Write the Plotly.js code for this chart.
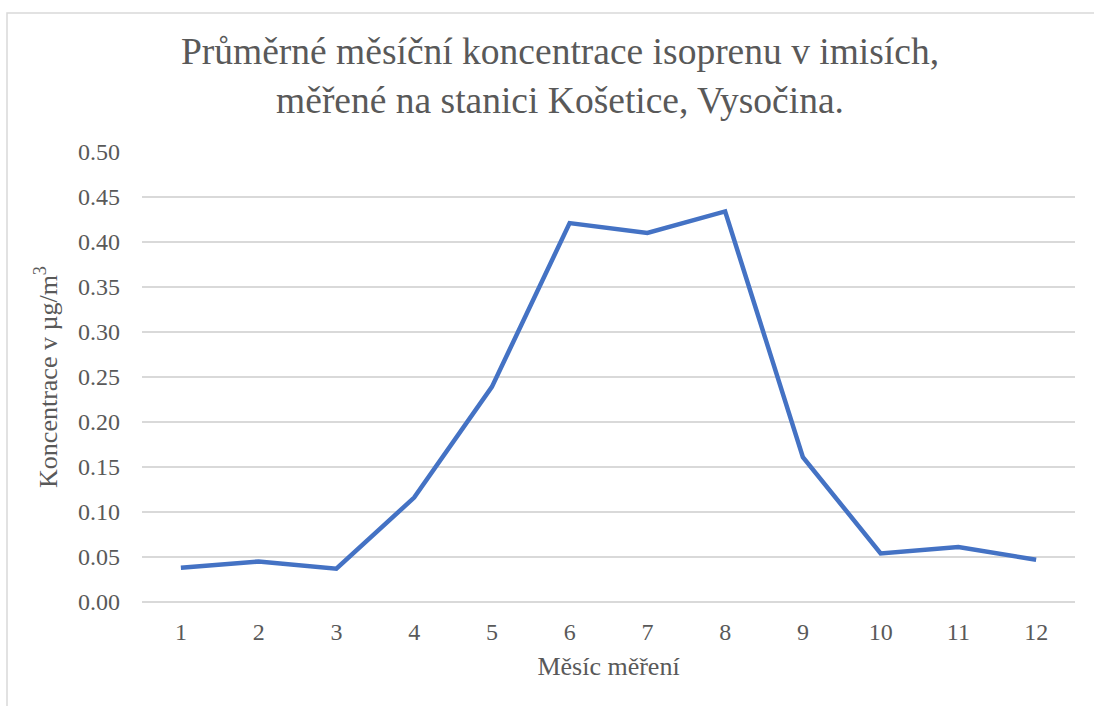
<!DOCTYPE html>
<html>
<head>
<meta charset="utf-8">
<script src="https://cdn.plot.ly/plotly-3.0.1.min.js"></script>
<style>
html,body{margin:0;padding:0;background:#fff;}
#chart{width:1094px;height:706px;}
</style>
</head>
<body>
<div id="chart"></div>
<script>
const months = [1, 2, 3, 4, 5, 6, 7, 8, 9, 10, 11, 12];
const monthLabels = ["1", "2", "3", "4", "5", "6", "7", "8", "9", "10", "11", "12"];
const isoprene = [0.038, 0.045, 0.037, 0.116, 0.239, 0.421, 0.410, 0.434, 0.161, 0.054, 0.061, 0.047];
const yTicks = [0, 0.05, 0.10, 0.15, 0.20, 0.25, 0.30, 0.35, 0.40, 0.45, 0.50];

const fontFam = 'Liberation Serif';
const txt = '#595959';

const L = 142, R = 19, T = 152, B = 104;
const W = 1094 - L - R, H = 706 - T - B;
const px = x => (x - L) / W;
const py = y => (706 - B - y) / H;

Plotly.newPlot('chart', [{
  x: months,
  y: isoprene,
  type: 'scatter',
  mode: 'lines',
  line: {color: '#4472c4', width: 4.5},
  hoverinfo: 'x+y'
}], {
  width: 1094, height: 706,
  margin: {l: L, r: R, t: T, b: B},
  paper_bgcolor: '#ffffff',
  plot_bgcolor: '#ffffff',
  showlegend: false,
  font: {family: fontFam, color: txt, size: 24},
  title: {
    text: 'Průměrné měsíční koncentrace isoprenu v imisích,<br>měřené na stanici Košetice, Vysočina.',
    font: {family: fontFam, size: 37.5, color: txt},
    x: 560 / 1094, xanchor: 'center', xref: 'container',
    y: 1 - 64 / 706, yanchor: 'top', yref: 'container'
  },
  xaxis: {
    range: [0.5, 12.5],
    tickmode: 'array',
    tickvals: months,
    ticktext: monthLabels,
    showgrid: false,
    zeroline: false,
    showline: false,
    ticks: '',
    ticklabelstandoff: 13,
    tickfont: {family: fontFam, size: 24, color: txt},
    title: {text: 'Měsíc měření', font: {family: fontFam, size: 26, color: txt}, standoff: 12}
  },
  yaxis: {
    range: [0, 0.5],
    tickmode: 'array',
    tickvals: yTicks,
    tickformat: '.2f',
    showgrid: true,
    gridcolor: '#d9d9d9',
    gridwidth: 1.5,
    zeroline: true,
    zerolinecolor: '#d9d9d9',
    zerolinewidth: 1.5,
    showline: false,
    ticks: '',
    ticklabelstandoff: 21,
    tickfont: {family: fontFam, size: 24, color: txt},
    title: {text: 'Koncentrace v µg/m<sup>3</sup>', font: {family: fontFam, size: 26, color: txt}, standoff: 12}
  },
  shapes: [{
    type: 'rect', xref: 'paper', yref: 'paper',
    x0: px(7), x1: px(1110), y0: py(720), y1: py(13),
    line: {color: '#d9d9d9', width: 1.5},
    fillcolor: 'rgba(0,0,0,0)',
    layer: 'below'
  }]
}, {displayModeBar: false, staticPlot: true});
</script>
</body>
</html>
